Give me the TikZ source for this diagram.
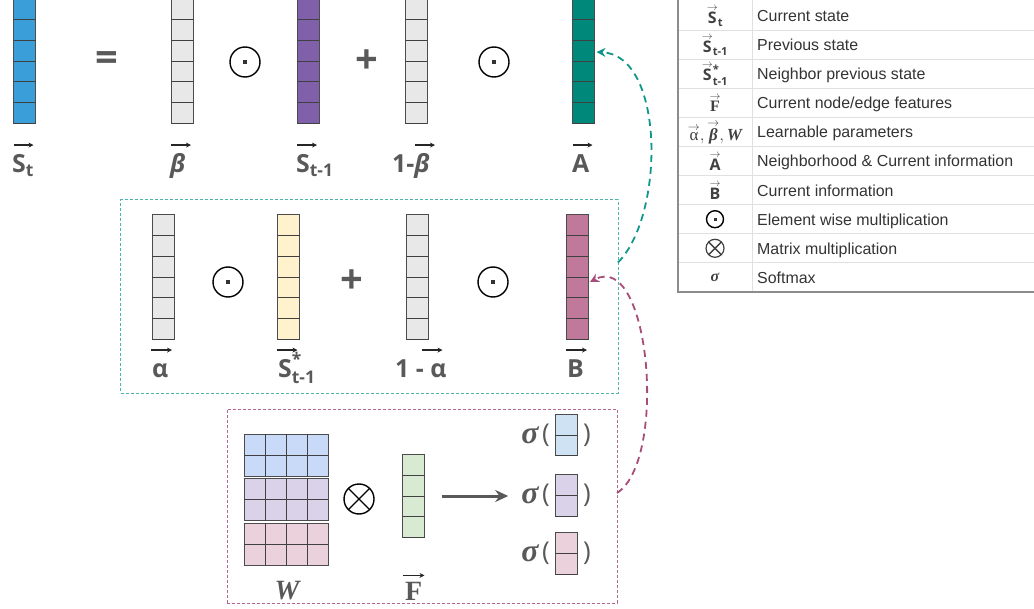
\documentclass[tikz,border=0pt]{standalone}
\usepackage{amsmath}
\usepackage{amssymb}
\usepackage{fontspec}
\usetikzlibrary{arrows.meta}

\newfontfamily\labfont{Open Sans}
\newfontfamily\tabfont{Liberation Sans}
\newfontfamily\serfont{Liberation Serif}

\definecolor{stblue}{HTML}{3A9FD9}
\definecolor{vgray}{HTML}{E8E8E8}
\definecolor{svio}{HTML}{8061A9}
\definecolor{ateal}{HTML}{00897B}
\definecolor{syel}{HTML}{FFF2CC}
\definecolor{bpink}{HTML}{C0789B}
\definecolor{wblue}{HTML}{C9DAF8}
\definecolor{wvio}{HTML}{D9D2E9}
\definecolor{wpink}{HTML}{EAD1DC}
\definecolor{fgreen}{HTML}{D9EAD3}
\definecolor{sblue}{HTML}{CFE2F3}
\definecolor{labgray}{HTML}{595959}
\definecolor{boxteal}{HTML}{4DB6AC}
\definecolor{boxpink}{HTML}{B5668E}
\definecolor{arrteal}{HTML}{11968A}
\definecolor{arrpink}{HTML}{A64D79}

% small arrow over a symbol in the legend
\newcommand{\tarr}[1]{\overset{\raisebox{-3.5bp}{$\scriptstyle\rightarrow$}}{#1}}

\tikzset{
  colbox/.style={draw=black!70, line width=1bp, minimum width=22bp, inner sep=0pt, outer sep=0pt},
  cellline/.style={draw=black!75, line width=0.8bp},
  lab/.style={text=labgray, font=\labfont\bfseries\fontsize{25}{30}\selectfont, inner sep=0pt, anchor=base west},
  op/.style={text=labgray, font=\labfont\bfseries\fontsize{40}{40}\selectfont, inner sep=0pt},
  vecarr/.style={draw=black!85, line width=1.5bp, -{Stealth[length=5bp,width=5bp]}},
  odot/.style={circle, draw, line width=1.4bp, minimum size=30bp, inner sep=0pt,
    path picture={\fill[black!80] (path picture bounding box.center) ++(-2bp,-2bp) rectangle ++(4bp,4bp);}},
  otimes/.style={circle, draw, line width=1.4bp, minimum size=30bp, inner sep=0pt,
    path picture={\draw[line width=1.4bp] (path picture bounding box.north west) -- (path picture bounding box.south east)
      (path picture bounding box.north east) -- (path picture bounding box.south west);}},
  tabtxt/.style={text=black!80, font=\tabfont\fontsize{16}{19}\selectfont, anchor=base west, inner sep=0pt},
  tabsym/.style={text=black!75, font=\labfont\bfseries\fontsize{16}{19}\selectfont, inner sep=0pt},
  tabsep/.style={draw=black!12, line width=0.8bp},
  linkarr/.style={dash pattern=on 7bp off 5bp, line width=1.8bp, -{Stealth[length=9bp,width=9bp]}},
  sig/.style={text=labgray, font=\serfont\bfseries\itshape\fontsize{32}{32}\selectfont, inner sep=0pt},
  paren/.style={text=labgray, font=\labfont\fontsize{26}{30}\selectfont, inner sep=0pt},
}

% a column vector of #4 cells
\newcommand{\vcol}[5]{%
  \node[colbox, fill=#5, minimum height=#4*20.7bp] (#1) at (#2,#3) {};
  \foreach \k in {1,...,#4}{\draw[cellline] ([yshift=-\k*20.7bp]#1.north west) -- ([yshift=-\k*20.7bp]#1.north east);}
}
% one 2x4 block of W
\newcommand{\wblock}[3]{%
  \node[colbox, fill=#3, minimum width=84bp, minimum height=42bp] (#1) at (286,#2) {};
  \foreach \c in {1,2,3}{\draw[cellline] ([xshift=\c*21bp]#1.north west) -- ([xshift=\c*21bp]#1.south west);}
  \draw[cellline] (#1.west) -- (#1.east);
}

\begin{document}
\begin{tikzpicture}[x=1bp,y=-1bp]
\useasboundingbox (0,0) rectangle (1034,609);

% top row
\vcol{st}{24.5}{61}{6}{stblue}
\vcol{beta}{182}{61}{6}{vgray}
\vcol{stp}{308}{61}{6}{svio}
\vcol{omb}{416}{61}{6}{vgray}
\vcol{avec}{583.5}{61}{6}{ateal}
\node[op] (eq) at (107,62) {=};
\node[odot] (od1) at (245,62) {};
\node[op] (plus1) at (367,62) {+};
\node[odot] (od2) at (494,62) {};

\node[lab] (lst) at (12,173) {$\text{S}_{\text{t}}$};
\node[lab] (lbeta) at (170,173) {\itshape β};
\node[lab] (lstp) at (296,173) {$\text{S}_{\text{t-1}}$};
\node[lab] (lomb) at (392,173) {1-\textit{β}};
\node[lab] (la) at (572,173) {A};
\draw[vecarr] ([yshift=-22bp]st.south west) -- ++(20,0);
\draw[vecarr] ([yshift=-22bp]beta.south west) -- ++(20,0);
\draw[vecarr] ([yshift=-22bp]stp.south west) -- ++(20,0);
\draw[vecarr] ([xshift=10bp,yshift=-22bp]omb.south west) -- ++(20,0);
\draw[vecarr] ([yshift=-22bp]avec.south west) -- ++(20,0);

% middle row
\node[draw=boxteal, dash pattern=on 3bp off 2bp, line width=1bp, minimum width=497bp, minimum height=193bp, inner sep=0pt, outer sep=0pt] (midbox) at (369.5,296.5) {};
\vcol{alpha}{163}{277}{6}{vgray}
\vcol{sstar}{288.5}{277}{6}{syel}
\vcol{oma}{417.5}{277}{6}{vgray}
\vcol{bvec}{577}{277}{6}{bpink}
\node[odot] (od3) at (228,282) {};
\node[op] (plus2) at (352,282) {+};
\node[odot] (od4) at (493,282) {};

\node[lab] (lalpha) at (152,377) {α};
\node[lab] (lsstar) at (278,377) {$\text{S}{\vphantom{\text{S}}}^{\text{*}}_{\text{t-1}}$};
\node[lab] (loma) at (395,377) {1 - α};
\node[lab] (lb) at (567,377) {B};
\draw[vecarr] ([xshift=-1bp,yshift=-11bp]alpha.south west) -- ++(21,0);
\draw[vecarr] ([xshift=-1bp,yshift=-11bp]sstar.south west) -- ++(21,0);
\draw[vecarr] ([xshift=15bp,yshift=-11bp]oma.south west) -- ++(21,0);
\draw[vecarr] ([yshift=-11bp]bvec.south west) -- ++(21,0);

% bottom box
\node[draw=boxpink, dash pattern=on 3bp off 2bp, line width=1bp, minimum width=390bp, minimum height=194bp, inner sep=0pt, outer sep=0pt] (botbox) at (422,506) {};
\wblock{wb}{455}{wblue}
\wblock{wv}{499.5}{wvio}
\wblock{wp}{544}{wpink}
\node[otimes] (ox) at (359,499) {};
\vcol{fvec}{413.5}{496}{4}{fgreen}
\node[lab, font=\serfont\bfseries\itshape\fontsize{28}{30}\selectfont, anchor=base] (lw) at (287,599) {W};
\node[lab, font=\serfont\bfseries\fontsize{28}{30}\selectfont] (lf) at (405,600) {F};
\draw[vecarr] ([yshift=-38bp]fvec.south west) -- ++(22,0);

\foreach \nn/\yy/\cc in {1/435/sblue, 2/495.5/wvio, 3/553.5/wpink}{
  \node[sig] (sg\nn) at (530,\yy) {σ};
  \node[paren] (po\nn) at (546,\yy) {(};
  \vcol{sv\nn}{566}{\yy}{2}{\cc}
  \node[paren] (pc\nn) at (587,\yy) {)};
}
\path (sg2.west) ++(-13,0) coordinate (prodend);
\draw[line width=3bp, draw=labgray, -{Stealth[length=13bp,width=12bp]}] ([xshift=17bp]fvec.east) -- (prodend |- fvec.east);

% links
\draw[linkarr, color=arrteal] ([yshift=34bp]midbox.east) .. controls (665,215) and (665,55) .. ([xshift=2bp,yshift=9bp]avec.east);
\draw[linkarr, color=arrpink] ([yshift=13bp]botbox.east) .. controls (668,460) and (650,250) .. ([xshift=2bp,yshift=-5bp]bvec.east);

% legend
\draw[black!45, line width=1.2bp] (678,-1) rectangle (1040,292);
\foreach \r in {1,...,9}{\draw[tabsep] (679,{1+\r*29.1}) -- (1039,{1+\r*29.1});}
\draw[tabsep] (752,-1) -- (752,291);

\node[tabsym] (s1) at (715,15.5) {$\tarr{\text{S}}_{\text{t}}$};
\node[tabsym] (s2) at (715,44.6) {$\tarr{\text{S}}_{\text{t-1}}$};
\node[tabsym] (s3) at (715,73.7) {$\tarr{\text{S}}{\vphantom{\text{S}}}^{\text{*}}_{\text{t-1}}$};
\node[tabsym] (s4) at (715,102.8) {$\tarr{\text{\serfont F}}$};
\node[tabsym, font=\labfont\bfseries\fontsize{17}{20}\selectfont] (s5) at (715,131.9) {$\tarr{\text{\serfont\mdseries α}},\tarr{\text{\serfont\itshape β}},\text{\serfont\itshape W}$};
\node[tabsym] (s6) at (715,161) {$\tarr{\text{A}}$};
\node[tabsym] (s7) at (715,190.1) {$\tarr{\text{B}}$};
\node[odot, minimum size=17bp, line width=1.4bp, path picture={\fill[black!80] (path picture bounding box.center) ++(-1.5bp,-1.5bp) rectangle ++(3bp,3bp);}] (s8) at (715,219.2) {};
\node[otimes, minimum size=18bp, line width=1.2bp, draw=black!75] (s9) at (715,248.3) {};
\node[tabsym] (s10) at (715,277.4) {\serfont\itshape σ};

\node[tabtxt] (t1) at (757,21.5) {Current state};
\node[tabtxt] (t2) at (757,50.6) {Previous state};
\node[tabtxt] (t3) at (757,79.7) {Neighbor previous state};
\node[tabtxt] (t4) at (757,108.8) {Current node/edge features};
\node[tabtxt] (t5) at (757,137.9) {Learnable parameters};
\node[tabtxt] (t6) at (757,167) {Neighborhood \& Current information};
\node[tabtxt] (t7) at (757,196.1) {Current information};
\node[tabtxt] (t8) at (757,225.2) {Element wise multiplication};
\node[tabtxt] (t9) at (757,254.3) {Matrix multiplication};
\node[tabtxt] (t10) at (757,283.4) {Softmax};
\end{tikzpicture}
\end{document}
